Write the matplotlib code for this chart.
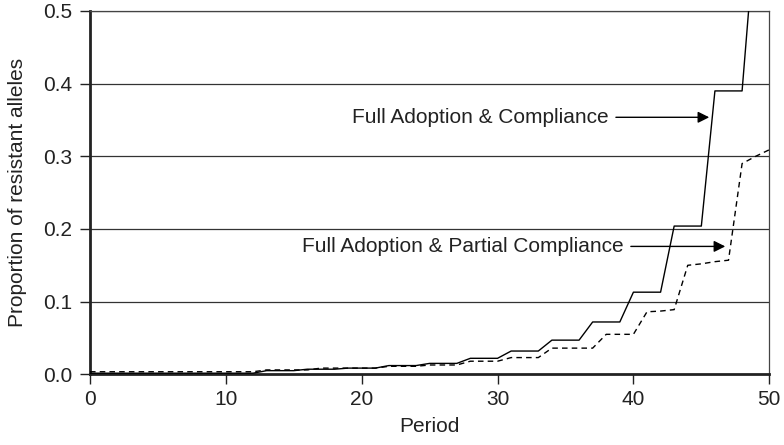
import matplotlib
matplotlib.use("Agg")
import matplotlib.pyplot as plt
import numpy as np

plt.rcParams['font.family'] = ['Liberation Sans', 'DejaVu Sans']

# resistant allele share per period
periods_full = list(range(0, 50))
full_compliance = [0.0015] * 13 + [0.005] * 3 + [0.007] * 3 + [0.0085] * 3 + \
    [0.012] * 3 + [0.015] * 3 + [0.022] * 3 + [0.032] * 3 + [0.047] * 3 + \
    [0.072] * 3 + [0.113] * 3 + [0.204] * 3 + [0.390] * 3 + [0.62]

periods_partial = list(range(0, 51))
partial_compliance = [0.0035] * 13 + [0.006] * 4 + [0.0085] * 5 + [0.011] * 3 + \
    [0.0128] * 3 + [0.018] * 3 + [0.023] * 3 + [0.036] * 4 + [0.055] * 3 + \
    [0.086, 0.087, 0.089] + [0.150, 0.152, 0.155, 0.157] + [0.290, 0.300, 0.309]

x_ticks = [0, 10, 20, 30, 40, 50]
y_ticks = [0.0, 0.1, 0.2, 0.3, 0.4, 0.5]

fig = plt.figure(figsize=(7.84, 4.45), dpi=100)
ax = fig.add_axes([0.1148, 0.1589, 0.9812 - 0.1148, 0.9753 - 0.1589])

for y in y_ticks[1:]:
    ax.axhline(y, color='#333333', lw=0.9, zorder=1)

ax.plot(periods_full, full_compliance, color='black', lw=1.0, zorder=3)
ax.plot(periods_partial, partial_compliance, color='black', lw=1.0,
        linestyle=(0, (4, 3)), zorder=3)

ax.set_xlim(0, 50)
ax.set_ylim(0, 0.5)
ax.set_xticks(x_ticks)
ax.set_yticks(y_ticks)
ax.set_yticklabels([f'{v:.1f}' for v in y_ticks])
ax.tick_params(direction='out', length=7, width=1.0, labelsize=15,
               colors='#222222')
ax.tick_params(axis='x', pad=4)
ax.tick_params(axis='y', pad=6)

for side in ['left', 'bottom']:
    ax.spines[side].set_linewidth(2.0)
    ax.spines[side].set_color('#222222')
for side in ['top', 'right']:
    ax.spines[side].set_linewidth(0.9)
    ax.spines[side].set_color('#444444')

ax.set_xlabel('Period', fontsize=15, color='#222222', labelpad=6)
ax.set_ylabel('Proportion of resistant alleles', fontsize=15, color='#222222', labelpad=11)

arrow = dict(arrowstyle='-|>', color='black', lw=1.0, mutation_scale=17,
             shrinkA=3, shrinkB=0)
ax.annotate('Full Adoption & Compliance', xy=(45.58, 0.3537), xytext=(38.2, 0.3537),
            ha='right', va='center', fontsize=15, color='#222222',
            arrowprops=arrow)
ax.annotate('Full Adoption & Partial Compliance', xy=(46.76, 0.176), xytext=(39.3, 0.176),
            ha='right', va='center', fontsize=15, color='#222222',
            arrowprops=arrow)

fig.savefig('out.png', dpi=100)
